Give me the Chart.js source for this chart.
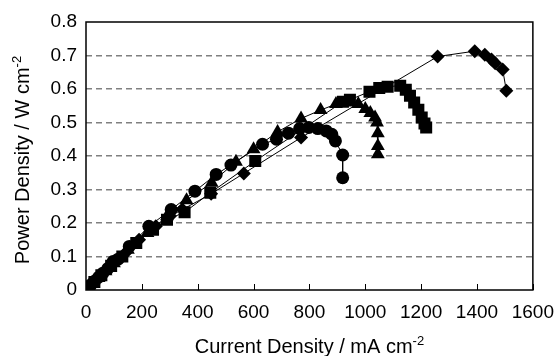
<!DOCTYPE html>
<html>
<head>
<meta charset="utf-8">
<script src="https://cdn.jsdelivr.net/npm/chart.js@4"></script>
<style>
  html, body { margin: 0; padding: 0; background: #fff; }
  #wrap { width: 557px; height: 356px; }
</style>
</head>
<body>
<div id="wrap"><canvas id="chart" width="557" height="356"></canvas></div>
<script>
// x = current density (mA cm-2), y = power density (W cm-2)
const circleX = [0, 8, 18, 30, 45, 60, 78, 97, 115, 155, 225, 305, 390, 466, 519, 632, 682, 725, 765, 798, 830, 860, 880, 893, 919, 919];
const circleY = [0, 0.008, 0.016, 0.026, 0.038, 0.05, 0.064, 0.085, 0.092, 0.13, 0.19, 0.24, 0.295, 0.345, 0.373, 0.435, 0.45, 0.468, 0.482, 0.485, 0.482, 0.475, 0.465, 0.445, 0.403, 0.335];

const triX = [0, 10, 25, 45, 70, 100, 150, 220, 290, 360, 450, 537, 600, 686, 770, 840, 895, 940, 975, 1000, 1018, 1035, 1042, 1045, 1045, 1045];
const triY = [0, 0.008, 0.02, 0.036, 0.056, 0.08, 0.12, 0.17, 0.22, 0.268, 0.32, 0.383, 0.42, 0.472, 0.512, 0.537, 0.555, 0.56, 0.555, 0.54, 0.528, 0.515, 0.5, 0.468, 0.43, 0.405];

const sqX = [0, 12, 30, 55, 90, 130, 180, 240, 290, 353, 445, 606, 920, 945, 1015, 1050, 1080, 1125, 1145, 1160, 1175, 1190, 1202, 1212, 1218];
const sqY = [0, 0.01, 0.024, 0.044, 0.072, 0.1, 0.14, 0.18, 0.21, 0.232, 0.29, 0.385, 0.562, 0.568, 0.592, 0.603, 0.607, 0.61, 0.598, 0.58, 0.56, 0.538, 0.515, 0.497, 0.485];

const diaX = [0, 15, 35, 60, 95, 140, 190, 250, 300, 345, 448, 565, 770, 1259, 1392, 1428, 1452, 1465, 1492, 1505];
const diaY = [0, 0.012, 0.028, 0.048, 0.076, 0.11, 0.15, 0.19, 0.22, 0.24, 0.287, 0.348, 0.455, 0.697, 0.713, 0.702, 0.688, 0.677, 0.658, 0.595];

const xTicks = [0, 200, 400, 600, 800, 1000, 1200, 1400, 1600];
const yTicks = [0, 0.1, 0.2, 0.3, 0.4, 0.5, 0.6, 0.7, 0.8];

function pts(xs, ys) {
    return xs.map((x, i) => ({ x: x, y: ys[i] }));
}

function series(xs, ys, style, radius) {
    return {
        data: pts(xs, ys),
        showLine: true,
        borderColor: '#000',
        borderWidth: 1,
        backgroundColor: '#000',
        pointStyle: style,
        pointRadius: radius,
        pointBorderWidth: 0,
        tension: 0
    };
}

const FONT = '"Liberation Sans", Arial, sans-serif';

// frame, inner x ticks and titles with superscripts
const decor = {
    id: 'decor',
    afterDraw(chart) {
        const ctx = chart.ctx;
        const a = chart.chartArea;
        const xs = chart.scales.x;
        ctx.save();
        ctx.strokeStyle = '#000';
        ctx.lineWidth = 1.5;
        ctx.strokeRect(a.left, a.top, a.right - a.left, a.bottom - a.top);
        ctx.lineWidth = 1;
        xTicks.forEach(v => {
            const px = Math.round(xs.getPixelForValue(v)) + 0.5;
            ctx.beginPath();
            ctx.moveTo(px, a.bottom);
            ctx.lineTo(px, a.bottom - 6);
            ctx.stroke();
        });

        ctx.fillStyle = '#000';
        ctx.textBaseline = 'alphabetic';
        const f = '20px ' + FONT;
        const fs = '13px ' + FONT;

        function sup(main, s, cx, cy) {
            ctx.font = f;
            const w1 = ctx.measureText(main).width;
            ctx.font = fs;
            const w2 = ctx.measureText(s).width;
            const x0 = cx - (w1 + w2) / 2;
            ctx.font = f;
            ctx.textAlign = 'left';
            ctx.fillText(main, x0, cy);
            ctx.font = fs;
            ctx.fillText(s, x0 + w1, cy - 8);
        }

        sup('Current Density / mA cm', '-2', (a.left + a.right) / 2, 353);

        ctx.save();
        ctx.translate(29, 160);
        ctx.rotate(-Math.PI / 2);
        sup('Power Density / W cm', '-2', 0, 0);
        ctx.restore();
        ctx.restore();
    }
};

new Chart(document.getElementById('chart').getContext('2d'), {
    type: 'scatter',
    data: {
        datasets: [
            series(sqX, sqY, 'rect', 8.5),
            series(triX, triY, 'triangle', 8),
            series(diaX, diaY, 'rectRot', 7),
            series(circleX, circleY, 'circle', 6.5)
        ]
    },
    options: {
        responsive: false,
        animation: false,
        layout: { padding: { left: 0, right: 22, top: 22, bottom: 0 } },
        plugins: { legend: { display: false }, tooltip: { enabled: false } },
        scales: {
            x: {
                type: 'linear',
                min: 0,
                max: 1600,
                afterBuildTicks: s => { s.ticks = xTicks.map(v => ({ value: v })); },
                grid: { display: false },
                border: { display: false },
                ticks: {
                    color: '#000',
                    font: { family: FONT, size: 19 },
                    padding: 3,
                    maxRotation: 0,
                    autoSkip: false,
                    callback: v => String(v)
                },
                afterFit: s => { s.height = 66; }
            },
            y: {
                min: 0,
                max: 0.8,
                afterBuildTicks: s => { s.ticks = yTicks.map(v => ({ value: v })); },
                grid: {
                    color: ctx => (ctx.tick && (ctx.tick.value === 0 || ctx.tick.value > 0.75)) ? 'rgba(0,0,0,0)' : '#808080',
                    lineWidth: 1.5,
                    drawTicks: false
                },
                border: { display: false, dash: [6, 4] },
                ticks: {
                    color: '#000',
                    font: { family: FONT, size: 19 },
                    padding: 9,
                    callback: v => v === 0 ? '0' : v.toFixed(1)
                },
                afterFit: s => { s.width = 86; }
            }
        }
    },
    plugins: [decor]
});
</script>
</body>
</html>
